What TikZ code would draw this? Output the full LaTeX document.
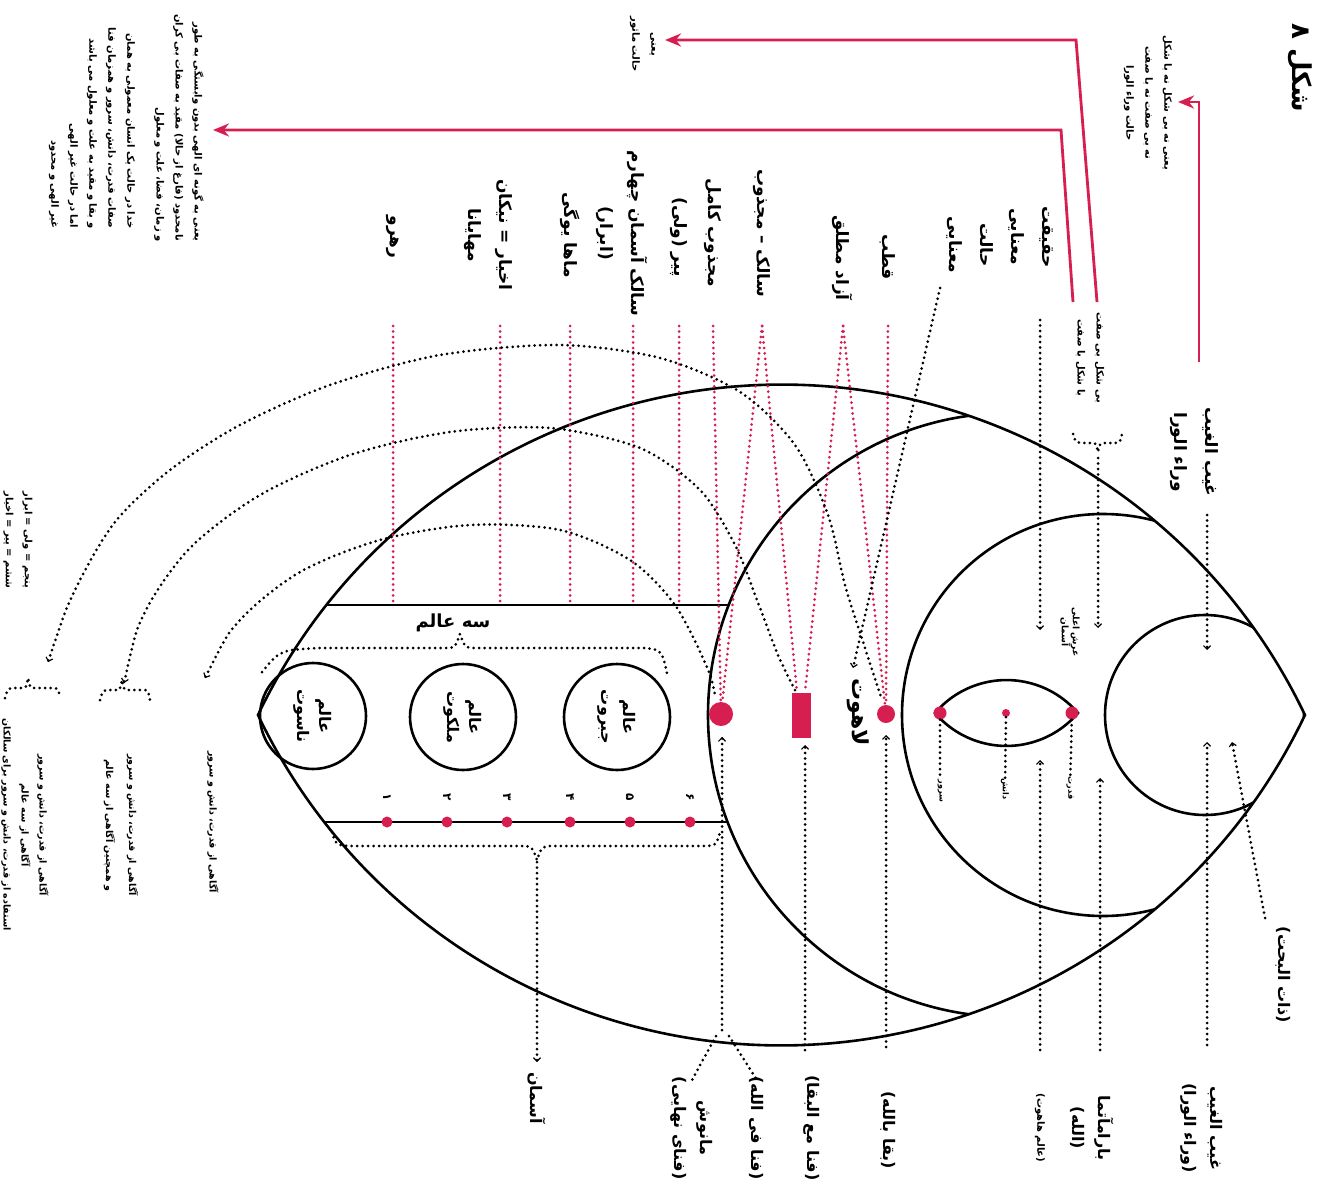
\documentclass[tikz,border=0pt]{standalone}
\usepackage{fontspec}
\newfontfamily\fa[Script=Arabic]{DejaVu Sans}
\TeXXeTstate=1
\usetikzlibrary{arrows.meta}
\definecolor{crim}{RGB}{214,30,80}
\newcommand{\rl}[1]{\beginR #1\endR}
\begin{document}
\begin{tikzpicture}[x=1pt,y=-1pt,
  lbl/.style={font=\fa\bfseries\fontsize{17}{31}\selectfont, rotate=-90, align=center, inner sep=0pt},
  blbl/.style={font=\fa\bfseries\fontsize{16}{26}\selectfont, rotate=-90, align=center, inner sep=0pt},
  sm/.style={font=\fa\bfseries\fontsize{10}{19}\selectfont, rotate=-90, align=center, inner sep=0pt},
  tn/.style={font=\fa\bfseries\fontsize{8}{10}\selectfont, rotate=-90, align=center, inner sep=0pt},
  ln/.style={line width=2.6pt},
  dotb/.style={black, line width=3pt, dash pattern=on 0pt off 5.5pt, line cap=round},
  dotr/.style={crim, line width=3pt, dash pattern=on 0pt off 5.5pt, line cap=round},
  tipb/.style={-{Straight Barb[length=3.5pt,width=7pt,line width=1.2pt]}},
  tipa/.style={{Straight Barb[length=3.5pt,width=7pt,line width=1.2pt]}-},
  rarr/.style={crim, line width=2.8pt, -{Stealth[length=16pt,width=13pt]}},
  reddot/.style={circle, fill=crim, inner sep=0pt},
  world/.style={circle, draw, line width=2.6pt, minimum size=106pt, inner sep=0pt, rotate=-90, align=center,
    font=\fa\bfseries\fontsize{16}{22}\selectfont},
]
\useasboundingbox (0,0) rectangle (1319,1185);
\fill[white] (0,0) rectangle (1319,1185);

% ---------- outer lens and circles ----------
\draw[ln] (258,715) arc[start angle=205.5, end angle=334.5, radius=580]
  arc[start angle=25.5, end angle=154.5, radius=580] -- cycle;
\begin{scope}
  \clip (258,715) arc[start angle=205.5, end angle=334.5, radius=580]
    arc[start angle=25.5, end angle=154.5, radius=580] -- cycle;
  \draw[ln] (1010,715) circle[radius=302];
  \draw[ln] (1103,715) circle[radius=201];
  \draw[ln] (1205,715) circle[radius=100];
\end{scope}

% inner small lens
\draw[ln] (935,713) arc[start angle=220.5, end angle=319.5, radius=94]
  arc[start angle=40.5, end angle=139.5, radius=94] -- cycle;
\node[reddot, minimum size=13pt] (sur) at (940,713) {};
\node[reddot, minimum size=8pt] (danesh) at (1006,713) {};
\node[reddot, minimum size=13pt] (qodrat) at (1072,713) {};
\node[tn] (lsur) at (940,791) {\rl{سرور}};
\node[tn] (ldanesh) at (1005,789) {\rl{دانش}};
\node[tn] (lqodrat) at (1070,788) {\rl{قدرت}};
\draw[dotb] (sur) -- (lsur);
\draw[dotb] (danesh) -- (ldanesh);
\draw[dotb] (qodrat) -- (lqodrat);

% band of the three worlds
\draw[ln] (326,605) -- (729,605);
\draw[ln] (324,822) -- (728,822);
\node[world] (nasut) at (313,716) {\rl{عالم}\\\rl{ناسوت}};
\node[world] (malakut) at (463,717) {\rl{عالم}\\\rl{ملکوت}};
\node[world] (jabarut) at (617,717) {\rl{عالم}\\\rl{جبروت}};
\draw[dotb] (262,672) .. controls (280,650) .. (320,648) -- (445,648)
  .. controls (455,648) .. (460,634) .. controls (465,648) .. (475,648)
  -- (645,648) .. controls (662,650) .. (668,678);
\node[font=\fa\bfseries\fontsize{18}{20}\selectfont, inner sep=0pt] (seh) at (453,623) {\rl{سه عالم}};

% numbers and red dots
\foreach \xx/\nn in {387/۱,447/۲,507/۳,570/۴,630/۵,690/۶}{
  \node[font=\fa\bfseries\fontsize{12}{14}\selectfont, rotate=-90, inner sep=0pt] at (\xx,797) {\nn};
  \node[reddot, minimum size=11pt] at (\xx,822) {};
}
\draw[dotb] (332,832) .. controls (336,846) .. (360,846) -- (520,846)
  .. controls (532,846) .. (537,860) .. controls (542,846) .. (554,846)
  -- (700,846) .. controls (716,846) .. (720,832);

% red markers
\node[reddot, minimum size=24pt] (dbig) at (721,714) {};
\node[fill=crim, minimum width=19pt, minimum height=45pt, inner sep=0pt] (rect) at (801,715) {};
\node[reddot, minimum size=18pt] (dsm) at (886,714) {};
\node[font=\fa\bfseries\fontsize{22}{24}\selectfont, rotate=-90, inner sep=0pt] (lahut) at (858,712) {\rl{لاهوت}};

% ---------- top labels ----------
\node[lbl] (rahro) at (393,237) {\rl{رهرو}};
\node[lbl] (akhyar) at (488,235) {\rl{اخیار = نیکان}\\\rl{مهایانا}};
\node[lbl] (maha) at (570,235) {\rl{ماها یوگی}};
\node[lbl] (salek4) at (622,233) {\rl{سالک آسمان چهارم}\\\rl{(ابرار)}};
\node[lbl] (pir) at (679,237) {\rl{پیر (ولی)}};
\node[lbl] (majkamel) at (713,233) {\rl{مجذوب کامل}};
\node[lbl] (salmaj) at (762,233) {\rl{سالک – مجذوب}};
\node[lbl] (azad) at (843,258) {\rl{آزاد مطلق}};
\node[lbl] (qotb) at (888,257) {\rl{قطب}};
\node[lbl] (haqiqat) at (1031,237) {\rl{حقیقت}\\\rl{معنایی}};
\node[lbl] (halat) at (970,245) {\rl{حالت}\\\rl{معنایی}};
\node[sm] (bishekl) at (1090,358) {\rl{بی شکل بی صفت}\\\rl{با شکل با صفت}};
\node[lbl] (ghaybtop) at (1194,452) {\rl{غیب الغیب}\\\rl{وراء الورا}};

% red dotted from labels
\foreach \xx in {393,500,570,633,679}{
  \draw[dotr] (\xx,326) -- (\xx,601);
}
\draw[dotr] (713,326) -- (dbig);
\draw[dotr] (762,326) -- (dbig);
\draw[dotr] (762,326) -- (797,692);
\draw[dotr] (843,326) -- (805,692);
\draw[dotr] (843,326) -- (dsm);
\draw[dotr] (888,326) -- (dsm);

% black dotted from the top
\draw[dotb, tipb] (940,288) -- (853,668);
\draw[dotb, tipb] (1040,320) -- (1040,630);
\draw[dotb] (1073,434) .. controls (1076,443) .. (1085,443) -- (1092,443)
  .. controls (1096,443) .. (1098,452) .. controls (1100,443) .. (1104,443)
  -- (1113,443) .. controls (1120,443) .. (1122,434);
\draw[dotb, tipb] (1098,458) -- (1098,628);
\node[tn, font=\fa\bfseries\fontsize{9}{11}\selectfont] (arsh) at (1070,632) {\rl{عرش اعلی}\\\rl{آسمان}};
\draw[dotb, tipb] (1207,515) -- (1207,650);

% ---------- red arrows to the notes ----------
\draw[rarr] (1199,362) -- (1199,102) -- (1178,102);
\draw[rarr] (1097,302) -- (1076,40) -- (665,40);
\draw[rarr] (1073,302) -- (1061,130) -- (213,130);

\node[sm] (t2) at (1148,103) {\rl{یعنی نه بی شکل نه با شکل}\\\rl{نه بی صفت نه با صفت}\\\rl{حالت وراء الورا}};
\node[sm] (t3) at (643,44) {\rl{یعنی}\\\rl{حالت ماثور}};
\node[sm, align=right] (p1) at (179,128) {\rl{یعنی به گونه ای الهی بدون وابستگی به طور}\\\rl{نامحدود (فارغ از حالا) مقید به صفات بی کران}\\\rl{و زمان، فضا، علت و معلول}};
\node[sm, align=right] (p2) at (92,128) {\rl{خدا در حالت یک انسان معمولی به همان}\\\rl{صفات قدرت، دانش، سرور و همزمان فنا}\\\rl{و بقا و مقید به علت و معلول می باشد}\\\rl{اما در حالت غیر الهی}\\\rl{غیر الهی و محدود}};
\node[font=\fa\bfseries\fontsize{26}{28}\selectfont, rotate=-90, inner sep=0pt] (title) at (1300,68) {\rl{شکل ۸}};

% ---------- bottom labels ----------
\node[blbl] (asman) at (537,1098) {\rl{آسمان}};
\node[blbl] (manush) at (692,1128) {\rl{مانوش}\\\rl{(فنای نهایی)}};
\node[blbl] (fanafi) at (757,1128) {\rl{(فنا فی الله)}};
\node[blbl] (fanama) at (812,1128) {\rl{(فنا مع البقا)}};
\node[blbl] (baqa) at (888,1130) {\rl{(بقا بالله)}};
\node[sm] (hahut) at (1040,1128) {\rl{(عالم هاهوت)}};
\node[blbl] (param) at (1092,1128) {\rl{بارامآتما}\\\rl{(الله)}};
\node[blbl] (ghaybbot) at (1202,1128) {\rl{غیب الغیب}\\\rl{(وراء الورا)}};
\node[blbl] (zat) at (1283,975) {\rl{(ذات البحت)}};

\draw[dotb, tipb] (537,862) -- (537,1062);
\draw[dotb, tipb] (722,1030) -- (722,737);
\draw[dotb] (716,1036) -- (692,1080);
\draw[dotb] (729,1036) -- (757,1080);
\draw[dotb, tipb] (805,1050) -- (805,745);
\draw[dotb, tipb] (886,1047) -- (886,735);
\draw[dotb, tipb] (1040,1050) -- (1040,760);
\draw[dotb, tipb] (1100,1050) -- (1100,778);
\draw[dotb, tipb] (1207,1045) -- (1207,742);
\draw[dotb, tipb] (1265,918) -- (1232,742);

% ---------- big dotted arcs to the left notes ----------
\draw[dotb, tipa] plot[smooth] coordinates {(48,662) (75,590) (115,522) (170,470) (240,425) (330,385) (440,355) (560,345) (660,358) (740,392) (795,445) (828,515) (845,585) (864,645) (882,700)};
\draw[dotb, tipa] plot[smooth] coordinates {(124,683) (145,612) (190,548) (260,495) (350,455) (450,432) (550,428) (640,448) (700,490) (735,545) (757,600) (778,655) (797,694)};
\draw[dotb, tipa] plot[smooth] coordinates {(205,678) (240,620) (300,572) (380,540) (470,525) (560,530) (630,560) (675,605) (707,667) (715,695)};

\draw[dotb] (5,698) .. controls (8,688) .. (16,688) -- (22,688) .. controls (26,688) .. (28,678)
  .. controls (30,688) .. (35,688) -- (52,688) .. controls (58,688) .. (60,698);
\draw[dotb] (100,700) .. controls (103,690) .. (110,690) -- (116,690) .. controls (120,690) .. (122,680)
  .. controls (124,690) .. (128,690) -- (142,690) .. controls (148,690) .. (150,700);

\node[sm] (n5) at (18,540) {\rl{پنجم = ولی = ابرار}\\\rl{ششم = پیر = اخیار}};
\node[sm, font=\fa\bfseries\fontsize{9.5}{18}\selectfont] (left1) at (25,825) {\rl{آگاهی از قدرت، دانش و سرور}\\\rl{آگاهی از سه عالم}\\\rl{استفاده از قدرت، دانش و سرور برای سالکان}};
\node[sm, font=\fa\bfseries\fontsize{9.5}{23}\selectfont] (left2) at (121,825) {\rl{آگاهی از قدرت، دانش و سرور}\\\rl{و همچنین آگاهی از سه عالم}};
\node[sm, font=\fa\bfseries\fontsize{9.5}{18}\selectfont] (left3) at (213,822) {\rl{آگاهی از قدرت، دانش و سرور}};
\end{tikzpicture}
\end{document}
